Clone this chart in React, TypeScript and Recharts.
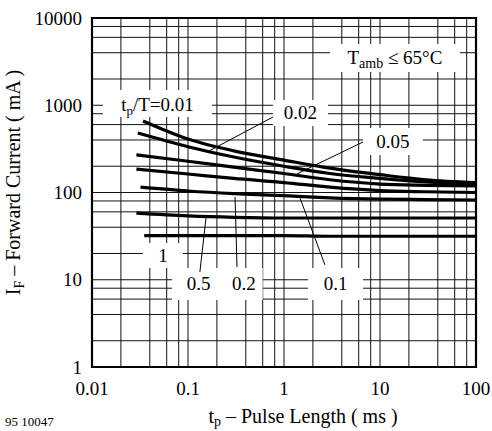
import React from "react";
import {
  LineChart,
  Line,
  XAxis,
  YAxis,
  CartesianGrid,
  ReferenceArea,
  ReferenceLine,
} from "recharts";

// duty cycle t_p/T of each curve, top to bottom
const dutyCycles = ["0.01", "0.02", "0.05", "0.1", "0.2", "0.5", "1"];

// where each curve starts (ms)
const startPulse = [0.034, 0.03, 0.029, 0.029, 0.032, 0.029, 0.035];
// remaining pulse lengths (ms)
const pulseLength = [0.1, 0.3, 1, 3, 10, 30, 100];

// forward current in mA (first value belongs to startPulse)
const current001 = [660, 410, 300, 235, 190, 160, 140, 130];
const current002 = [480, 335, 255, 200, 165, 145, 132, 125];
const current005 = [270, 228, 195, 165, 140, 125, 121, 119];
const current01 = [185, 163, 145, 130, 115, 105, 102, 100];
const current02 = [115, 104, 97, 92, 87, 84, 83, 82];
const current05 = [58, 54, 52, 51, 51, 51, 51, 51];
const current1 = [32, 32, 32, 32, 31.5, 31.5, 31.5, 31.5];

const currents = [current001, current002, current005, current01, current02, current05, current1];

const xDecades = [0.01, 0.1, 1, 10, 100];
const yDecades = [1, 10, 100, 1000, 10000];
const gridSteps = [2, 4, 6, 8];

const buildTicks = (decades: number[]) =>
  decades.flatMap((d, i) => (i < decades.length - 1 ? [d, ...gridSteps.map((s) => d * s)] : [d]));

const xTicks = buildTicks(xDecades);
const yTicks = buildTicks(yDecades);

const series = currents.map((vals, i) => [
  { x: startPulse[i], y: vals[0] },
  ...pulseLength.map((x, j) => ({ x, y: vals[j + 1] })),
]);

const FONT = "'Liberation Serif', 'Times New Roman', serif";

// white label boxes (data coords)
type Box = { x1: number; x2: number; y1: number; y2: number; kind: string; text: string };
const boxes: Box[] = [
  { x1: 0.013, x2: 0.178, y1: 733, y2: 1496, kind: "tp", text: "0.01" },
  { x1: 0.767, x2: 2.87, y1: 578, y2: 1148, kind: "plain", text: "0.02" },
  { x1: 6.65, x2: 28, y1: 269, y2: 548, kind: "plain", text: "0.05" },
  { x1: 3.01, x2: 68, y1: 2405, y2: 5036, kind: "tamb", text: "65°C" },
  { x1: 0.034, x2: 0.0887, y1: 13.6, y2: 26.4, kind: "plain", text: "1" },
  { x1: 0.0681, x2: 0.243, y1: 5.86, y2: 13.6, kind: "plain", text: "0.5" },
  { x1: 0.243, x2: 0.6, y1: 5.86, y2: 13.6, kind: "plain", text: "0.2" },
  { x1: 1.78, x2: 6.65, y1: 5.86, y2: 13.6, kind: "plain", text: "0.1" },
];

// leader lines (data coords)
const leaders = [
  [{ x: 0.767, y: 733 }, { x: 0.158, y: 291 }],
  [{ x: 6.65, y: 379 }, { x: 1.36, y: 163 }],
  [{ x: 0.154, y: 51 }, { x: 0.133, y: 12.3 }],
  [{ x: 0.309, y: 89 }, { x: 0.324, y: 14 }],
  [{ x: 1.47, y: 86 }, { x: 2.67, y: 14.8 }],
];

const BoxLabel = (kind: string, text: string) => (props: any) => {
  const vb = props.viewBox || {};
  const cx = vb.x + vb.width / 2;
  const cy = vb.y + vb.height / 2;
  if (kind === "tp") {
    return (
      <text x={cx} y={cy + 7} textAnchor="middle" fontFamily={FONT} fontSize={19} fill="#000">
        t<tspan dy={4} fontSize={13}>p</tspan>
        <tspan dy={-4}>/T={text}</tspan>
      </text>
    );
  }
  if (kind === "tamb") {
    return (
      <text x={cx} y={cy + 6} textAnchor="middle" fontFamily={FONT} fontSize={19} fill="#000">
        T<tspan dy={4} fontSize={14}>amb</tspan>
        <tspan dy={-4}> ≤ {text}</tspan>
      </text>
    );
  }
  return (
    <text x={cx} y={cy + 6} textAnchor="middle" fontFamily={FONT} fontSize={19} fill="#000">
      {text}
    </text>
  );
};

const XTitle = (props: any) => {
  const vb = props.viewBox || {};
  return (
    <g>
      <text x={vb.x + vb.width / 2 + 19} y={vb.y + 56} textAnchor="middle" fontFamily={FONT} fontSize={20} fill="#000">
        t<tspan dy={3} fontSize={14}>p</tspan>
        <tspan dy={-3}> – Pulse Length ( ms )</tspan>
      </text>
      <text x={5} y={vb.y + 59} fontFamily={FONT} fontSize={13} fill="#000">
        95 10047
      </text>
    </g>
  );
};

const YTitle = (props: any) => {
  const vb = props.viewBox || {};
  const x = vb.x - 12;
  const y = vb.y + vb.height / 2 - 10;
  return (
    <text x={x} y={y} transform={`rotate(-90 ${x} ${y})`} textAnchor="middle" fontFamily={FONT} fontSize={20} fill="#000">
      I<tspan dy={4} fontSize={14}>F</tspan>
      <tspan dy={-4}> – Forward Current ( mA )</tspan>
    </text>
  );
};

const fmtX = (v: number) => (xDecades.includes(v) ? String(v) : "");
const fmtY = (v: number) => (yDecades.includes(v) ? String(v) : "");

export default function App() {
  return (
    <div style={{ position: "absolute", left: 0, top: 0, width: 492, height: 431, background: "#fff" }}>
      <LineChart width={492} height={431} margin={{ top: 18, right: 16, bottom: 34, left: 32 }}>
        <CartesianGrid stroke="#111" strokeWidth={1} />
        <XAxis
          type="number"
          dataKey="x"
          scale="log"
          domain={[0.01, 100]}
          allowDataOverflow
          ticks={xTicks}
          interval={0}
          tickFormatter={fmtX}
          axisLine={false}
          tickLine={false}
          tickSize={10}
          tickMargin={5}
          height={30}
          tick={{ fill: "#000", fontFamily: FONT, fontSize: 19 }}
          label={{ content: XTitle }}
        />
        <YAxis
          type="number"
          scale="log"
          domain={[1, 10000]}
          allowDataOverflow
          ticks={yTicks}
          interval={0}
          tickFormatter={fmtY}
          axisLine={false}
          tickLine={false}
          tickSize={8}
          tickMargin={2}
          width={60}
          tick={{ fill: "#000", fontFamily: FONT, fontSize: 19 }}
          label={{ content: YTitle }}
        />
        {boxes.map((b, i) => (
          <ReferenceArea
            key={"box" + i}
            x1={b.x1}
            x2={b.x2}
            y1={b.y1}
            y2={b.y2}
            fill="#fff"
            fillOpacity={1}
            stroke="none"
            label={BoxLabel(b.kind, b.text)}
          />
        ))}
        {series.map((d, i) => (
          <Line
            key={dutyCycles[i]}
            data={d}
            dataKey="y"
            name={dutyCycles[i]}
            type="monotone"
            stroke="#000"
            strokeWidth={3.2}
            dot={false}
            isAnimationActive={false}
          />
        ))}
        {leaders.map((seg, i) => (
          <ReferenceLine key={"ld" + i} segment={seg} stroke="#000" strokeWidth={1} ifOverflow="visible" />
        ))}
        <ReferenceArea x1={0.01} x2={100} y1={1} y2={10000} fill="none" stroke="#000" strokeWidth={2.2} />
      </LineChart>
    </div>
  );
}
